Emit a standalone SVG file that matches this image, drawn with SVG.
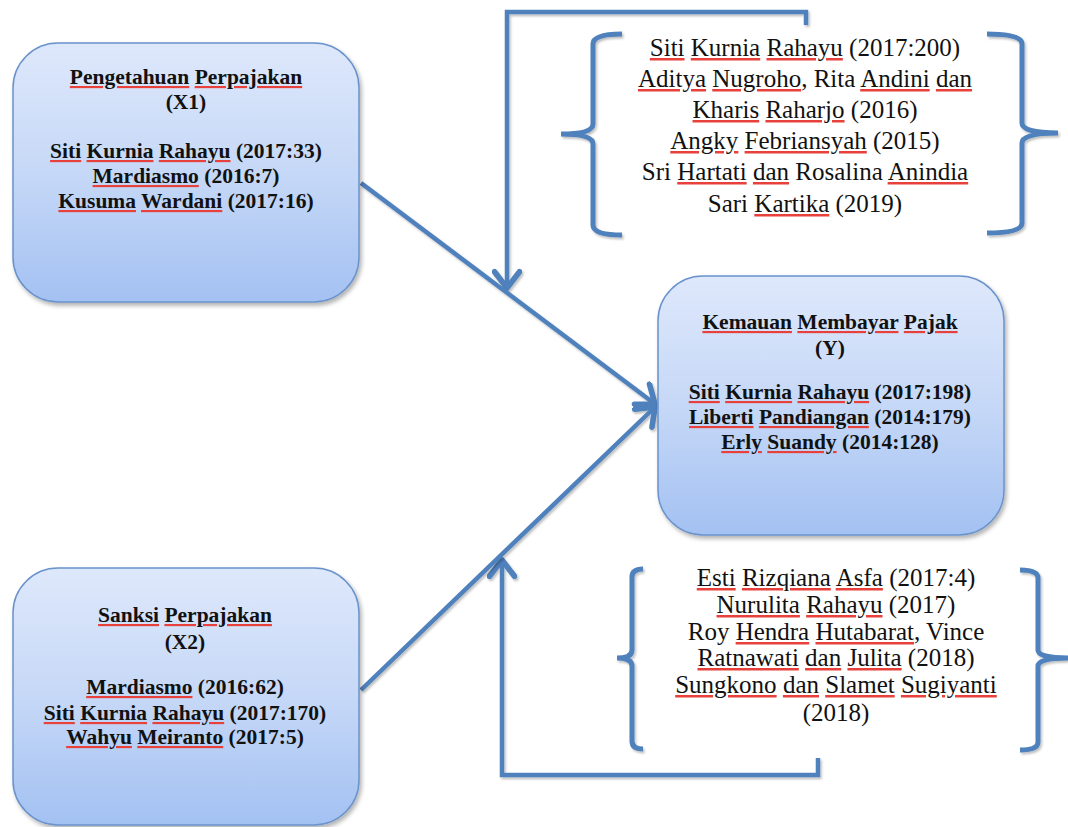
<svg xmlns="http://www.w3.org/2000/svg" width="1068" height="827" viewBox="0 0 1068 827">
<defs>
<linearGradient id="boxGrad" x1="0" y1="0" x2="0" y2="1">
<stop offset="0" stop-color="#DEE8FB"/>
<stop offset="0.5" stop-color="#C6D8F7"/>
<stop offset="1" stop-color="#A3C1F2"/>
</linearGradient>
<filter id="shadow" x="-10%" y="-10%" width="120%" height="120%">
<feDropShadow dx="2" dy="3" stdDeviation="2" flood-color="#000" flood-opacity="0.3"/>
</filter>
<filter id="lshadow" x="-10%" y="-10%" width="120%" height="120%">
<feDropShadow dx="1.5" dy="2" stdDeviation="1.2" flood-color="#000" flood-opacity="0.25"/>
</filter>
<marker id="arrow" markerUnits="userSpaceOnUse" markerWidth="30" markerHeight="30" viewBox="-16 -12 20 24" refX="0" refY="0" orient="auto">
<path d="M-13,-10 L0,0 L-13,10" fill="none" stroke="#4F81BD" stroke-width="4.5" stroke-linecap="round" stroke-linejoin="round"/>
</marker>
</defs>
<style>
.box{fill:url(#boxGrad);stroke:#6A93CB;stroke-width:1.5;filter:url(#shadow)}
.bt{font-family:"Liberation Serif","Times New Roman",serif;font-weight:bold;font-size:21.5px;fill:#111;text-anchor:middle}
.rt{font-family:"Liberation Serif","Times New Roman",serif;font-size:25px;fill:#111;text-anchor:middle}
.sp{text-decoration:underline;fill:#E8403A;text-decoration-thickness:1.5px;text-underline-offset:3px}
.sp tspan{fill:#111}
.ln{fill:none;stroke:#4F81BD;stroke-width:4.5;stroke-linejoin:miter;filter:url(#lshadow)}
.br{fill:none;stroke:#4F81BD;stroke-width:5;stroke-linecap:butt;filter:url(#lshadow)}
</style>
<rect width="1068" height="827" fill="#fff"/>

<g id="connectors">
<path class="ln" d="M806,25 L806,12 L507,12 L507,288" marker-end="url(#arrow)"/>
<path class="ln" d="M818,758 L818,775 L502,775 L502,560" marker-end="url(#arrow)"/>
<path class="ln" d="M361,183 L655,404" marker-end="url(#arrow)"/>
<path class="ln" d="M361,690 L655,407" marker-end="url(#arrow)"/>
</g>

<g id="brace-top">
<path class="br" d="M622,34 Q593,34 593,44 L593,124 Q593,134 561,134 Q593,134 593,144 L593,225 Q593,235 622,235"/>
<path class="br" d="M987,34 Q1022,34 1022,44 L1022,123 Q1022,133 1058,133 Q1022,133 1022,143 L1022,223 Q1022,233 987,233"/>
<text class="rt" x="805" y="56"><tspan class="sp"><tspan>Siti</tspan></tspan> <tspan class="sp"><tspan>Kurnia</tspan></tspan> <tspan class="sp"><tspan>Rahayu</tspan></tspan> (2017:200)</text>
<text class="rt" x="805" y="87"><tspan class="sp"><tspan>Aditya</tspan></tspan> <tspan class="sp"><tspan>Nugroho</tspan></tspan>, Rita <tspan class="sp"><tspan>Andini</tspan></tspan> <tspan class="sp"><tspan>dan</tspan></tspan></text>
<text class="rt" x="805" y="118"><tspan class="sp"><tspan>Kharis</tspan></tspan> <tspan class="sp"><tspan>Raharjo</tspan></tspan> (2016)</text>
<text class="rt" x="805" y="149"><tspan class="sp"><tspan>Angky</tspan></tspan> <tspan class="sp"><tspan>Febriansyah</tspan></tspan> (2015)</text>
<text class="rt" x="805" y="180">Sri <tspan class="sp"><tspan>Hartati</tspan></tspan> <tspan class="sp"><tspan>dan</tspan></tspan> Rosalina <tspan class="sp"><tspan>Anindia</tspan></tspan></text>
<text class="rt" x="805" y="212">Sari <tspan class="sp"><tspan>Kartika</tspan></tspan> (2019)</text>
</g>

<g id="brace-bottom">
<path class="br" d="M643,569 Q632,569 632,577 L632,650 Q632,658 617,658 Q632,658 632,666 L632,741 Q632,749 643,749"/>
<path class="br" d="M1020,570 Q1038,570 1038,578 L1038,650 Q1038,658 1068,658 Q1038,658 1038,666 L1038,742 Q1038,750 1020,750"/>
<text class="rt" x="836" y="586"><tspan class="sp"><tspan>Esti</tspan></tspan> <tspan class="sp"><tspan>Rizqiana</tspan></tspan> <tspan class="sp"><tspan>Asfa</tspan></tspan> (2017:4)</text>
<text class="rt" x="836" y="613"><tspan class="sp"><tspan>Nurulita</tspan></tspan> <tspan class="sp"><tspan>Rahayu</tspan></tspan> (2017)</text>
<text class="rt" x="836" y="640">Roy <tspan class="sp"><tspan>Hendra</tspan></tspan> <tspan class="sp"><tspan>Hutabarat</tspan></tspan>, Vince</text>
<text class="rt" x="836" y="666"><tspan class="sp"><tspan>Ratnawati</tspan></tspan> <tspan class="sp"><tspan>dan</tspan></tspan> <tspan class="sp"><tspan>Julita</tspan></tspan> (2018)</text>
<text class="rt" x="836" y="693"><tspan class="sp"><tspan>Sungkono</tspan></tspan> <tspan class="sp"><tspan>dan</tspan></tspan> <tspan class="sp"><tspan>Slamet</tspan></tspan> <tspan class="sp"><tspan>Sugiyanti</tspan></tspan></text>
<text class="rt" x="836" y="721">(2018)</text>
</g>

<g id="node-x1">
<rect class="box" x="13" y="43" width="346" height="259" rx="45" ry="45"/>
<text class="bt" x="186" y="84"><tspan class="sp"><tspan>Pengetahuan</tspan></tspan> <tspan class="sp"><tspan>Perpajakan</tspan></tspan></text>
<text class="bt" x="186" y="109">(X1)</text>
<text class="bt" x="186" y="158"><tspan class="sp"><tspan>Siti</tspan></tspan> <tspan class="sp"><tspan>Kurnia</tspan></tspan> <tspan class="sp"><tspan>Rahayu</tspan></tspan> (2017:33)</text>
<text class="bt" x="186" y="183"><tspan class="sp"><tspan>Mardiasmo</tspan></tspan> (2016:7)</text>
<text class="bt" x="186" y="208"><tspan class="sp"><tspan>Kusuma</tspan></tspan> <tspan class="sp"><tspan>Wardani</tspan></tspan> (2017:16)</text>
</g>

<g id="node-y">
<rect class="box" x="658" y="276" width="346" height="259" rx="45" ry="45"/>
<text class="bt" x="830" y="329"><tspan class="sp"><tspan>Kemauan</tspan></tspan> <tspan class="sp"><tspan>Membayar</tspan></tspan> <tspan class="sp"><tspan>Pajak</tspan></tspan></text>
<text class="bt" x="830" y="355">(Y)</text>
<text class="bt" x="830" y="399"><tspan class="sp"><tspan>Siti</tspan></tspan> <tspan class="sp"><tspan>Kurnia</tspan></tspan> <tspan class="sp"><tspan>Rahayu</tspan></tspan> (2017:198)</text>
<text class="bt" x="830" y="424"><tspan class="sp"><tspan>Liberti</tspan></tspan> <tspan class="sp"><tspan>Pandiangan</tspan></tspan> (2014:179)</text>
<text class="bt" x="830" y="449"><tspan class="sp"><tspan>Erly</tspan></tspan> <tspan class="sp"><tspan>Suandy</tspan></tspan> (2014:128)</text>
</g>

<g id="node-x2">
<rect class="box" x="13" y="568" width="346" height="257" rx="45" ry="45"/>
<text class="bt" x="185" y="622"><tspan class="sp"><tspan>Sanksi</tspan></tspan> <tspan class="sp"><tspan>Perpajakan</tspan></tspan></text>
<text class="bt" x="185" y="649">(X2)</text>
<text class="bt" x="185" y="694"><tspan class="sp"><tspan>Mardiasmo</tspan></tspan> (2016:62)</text>
<text class="bt" x="185" y="720"><tspan class="sp"><tspan>Siti</tspan></tspan> <tspan class="sp"><tspan>Kurnia</tspan></tspan> <tspan class="sp"><tspan>Rahayu</tspan></tspan> (2017:170)</text>
<text class="bt" x="185" y="744"><tspan class="sp"><tspan>Wahyu</tspan></tspan> <tspan class="sp"><tspan>Meiranto</tspan></tspan> (2017:5)</text>
</g>
</svg>
